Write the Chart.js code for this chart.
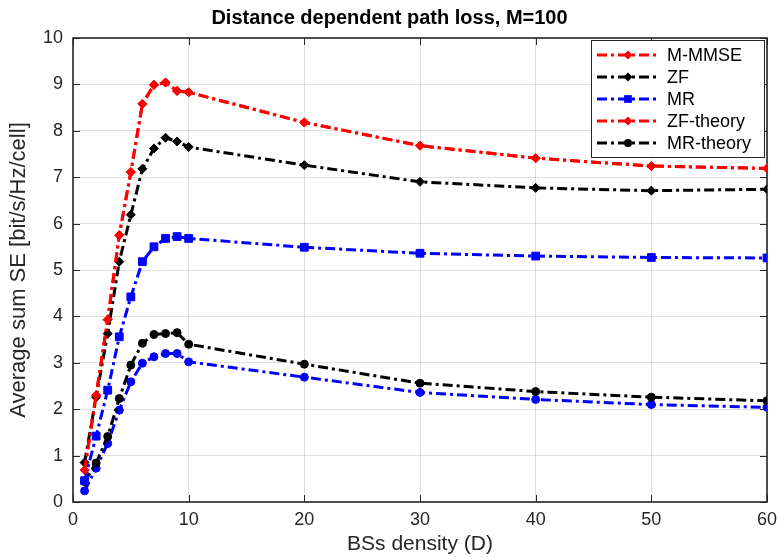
<!DOCTYPE html>
<html>
<head>
<meta charset="utf-8">
<script src="https://cdn.jsdelivr.net/npm/chart.js@4.4.0/dist/chart.umd.min.js"></script>
<style>
body{margin:0;background:#fff;}
#omotac{width:779px;height:557px;}
</style>
</head>
<body>
<div id="omotac"><canvas id="grafik"></canvas></div>
<script>
// x osa: gustina baznih stanica
const gustina = [1,2,3,4,5,6,7,8,9,10,20,30,40,50,60];

// serije procitane sa slike
const mmse      = [0.69,2.30,3.93,5.75,7.11,8.58,8.99,9.04,8.86,8.83,8.18,7.68,7.41,7.24,7.19];
const zf        = [0.85,2.26,3.63,5.18,6.19,7.18,7.62,7.85,7.77,7.65,7.26,6.90,6.77,6.71,6.74];
const mr        = [0.46,1.42,2.41,3.56,4.42,5.18,5.50,5.68,5.72,5.68,5.49,5.36,5.30,5.27,5.26];
const zfTeorija = [0.69,2.30,3.93,5.75,7.11,8.58,8.99,9.04,8.86,8.83,8.18,7.68,7.41,7.24,7.19];
const mrTeorija = [0.44,0.84,1.41,2.23,2.95,3.42,3.61,3.63,3.65,3.40,2.97,2.56,2.38,2.26,2.18];
const mrDonja   = [0.24,0.73,1.26,1.98,2.59,2.99,3.13,3.20,3.20,3.02,2.69,2.36,2.21,2.10,2.04];

const xTikovi = [0,10,20,30,40,50,60];
const yTikovi = [0,1,2,3,4,5,6,7,8,9,10];

const crta = [10,4,3,4];

function tacke(niz){
    return gustina.map((g,i)=>({x:g, y:niz[i]}));
}

function serija(naziv, niz, boja, oblik, r, uLegendi){
    return {
        label: naziv,
        data: tacke(niz),
        borderColor: boja,
        backgroundColor: boja,
        borderWidth: 3,
        borderDash: crta,
        pointStyle: oblik,
        pointRadius: r,
        pointBorderWidth: 1,
        pointBackgroundColor: boja,
        pointBorderColor: boja,
        tension: 0,
        uLegendi: uLegendi
    };
}

Chart.defaults.font.family = "'Liberation Sans', Arial, sans-serif";
Chart.defaults.color = "#262626";

const tamna = "#262626";

// okvir oko grafika i tikovi okrenuti ka unutra
const okvir = {
    id: "okvir",
    beforeDatasetsDraw(chart){
        const c = chart.ctx, a = chart.chartArea;
        const sx = chart.scales.x, sy = chart.scales.y;
        c.save();
        c.strokeStyle = tamna;
        c.lineWidth = 1;
        xTikovi.forEach(v=>{
            let px = Math.round(sx.getPixelForValue(v))+0.5;
            c.beginPath();
            c.moveTo(px, a.bottom); c.lineTo(px, a.bottom-7);
            c.moveTo(px, a.top); c.lineTo(px, a.top+7);
            c.stroke();
        });
        yTikovi.forEach(v=>{
            let py = Math.round(sy.getPixelForValue(v))+0.5;
            c.beginPath();
            c.moveTo(a.left, py); c.lineTo(a.left+7, py);
            c.moveTo(a.right, py); c.lineTo(a.right-7, py);
            c.stroke();
        });
        c.lineWidth = 1.6;
        c.strokeRect(a.left, a.top, a.right-a.left, a.bottom-a.top);
        c.restore();
    }
};

function marker(c, oblik, r, x, y){
    c.beginPath();
    if(oblik==="rectRot"){
        c.moveTo(x, y-r); c.lineTo(x+r, y); c.lineTo(x, y+r); c.lineTo(x-r, y); c.closePath();
    } else if(oblik==="rect"){
        let s = r*Math.SQRT1_2;
        c.rect(x-s, y-s, 2*s, 2*s);
    } else {
        c.arc(x, y, r, 0, Math.PI*2);
    }
    c.fill();
}

// legenda u gornjem desnom uglu
const legenda = {
    id: "legenda",
    afterDraw(chart){
        const c = chart.ctx, a = chart.chartArea;
        const sets = chart.data.datasets.filter(d=>d.uLegendi);
        const w = 173, h = 117;
        const lx = a.right - w - 3, ly = a.top + 2;
        c.save();
        c.fillStyle = "#fff";
        c.fillRect(lx, ly, w, h);
        c.strokeStyle = tamna;
        c.lineWidth = 1;
        c.strokeRect(lx+0.5, ly+0.5, w, h);
        c.font = "18px 'Liberation Sans', Arial, sans-serif";
        c.textBaseline = "middle";
        sets.forEach((d,i)=>{
            let y = ly + 15 + i*22;
            c.strokeStyle = d.borderColor;
            c.fillStyle = d.borderColor;
            c.lineWidth = 3;
            c.setLineDash(crta);
            c.beginPath();
            c.moveTo(lx+6, y); c.lineTo(lx+69, y);
            c.stroke();
            c.setLineDash([]);
            marker(c, d.pointStyle, d.pointRadius, lx+37, y);
            c.fillStyle = "#000";
            c.fillText(d.label, lx+76, y+1);
        });
        c.restore();
    }
};

new Chart(document.getElementById("grafik"), {
    type: "line",
    data: {
        datasets: [
            serija("M-MMSE", mmse, "#ff0000", "rectRot", 4.5, true),
            serija("ZF", zf, "#000000", "rectRot", 4.5, true),
            serija("MR", mr, "#0000ff", "rect", 5.5, true),
            serija("ZF-theory", zfTeorija, "#ff0000", "rectRot", 4.5, true),
            serija("MR-theory", mrTeorija, "#000000", "circle", 4, true),
            serija("MR (2)", mrDonja, "#0000ff", "circle", 4, false)
        ]
    },
    options: {
        responsive: true,
        maintainAspectRatio: false,
        animation: false,
        layout: { padding: { top: 0, right: 0, bottom: 0, left: 0 } },
        plugins: {
            legend: { display: false },
            tooltip: { enabled: false },
            title: {
                display: true,
                text: "Distance dependent path loss, M=100",
                color: "#000",
                font: { size: 20, weight: "bold" },
                padding: { top: 6, bottom: 8 }
            }
        },
        scales: {
            x: {
                type: "linear",
                min: 0, max: 60,
                afterFit: s => { s.height = 55; s.paddingRight = 12; s.paddingLeft = 0; },
                afterBuildTicks: s => { s.ticks = xTikovi.map(v=>({value:v})); },
                ticks: { font: { size: 18 }, padding: 7, color: tamna, maxRotation: 0 },
                grid: { color: "rgba(38,38,38,0.15)", drawTicks: false },
                border: { display: false },
                title: {
                    display: true,
                    text: "BSs density (D)",
                    font: { size: 21 },
                    color: tamna,
                    padding: { top: 0, bottom: 0 }
                }
            },
            y: {
                min: 0, max: 10,
                afterFit: s => { s.width = 73; },
                afterBuildTicks: s => { s.ticks = yTikovi.map(v=>({value:v})); },
                ticks: { font: { size: 18 }, padding: 10, color: tamna },
                grid: { color: "rgba(38,38,38,0.15)", drawTicks: false },
                border: { display: false },
                title: {
                    display: true,
                    text: "Average sum SE [bit/s/Hz/cell]",
                    font: { size: 22 },
                    color: tamna,
                    padding: { top: 6, bottom: 6 }
                }
            }
        }
    },
    plugins: [okvir, legenda]
});
</script>
</body>
</html>
